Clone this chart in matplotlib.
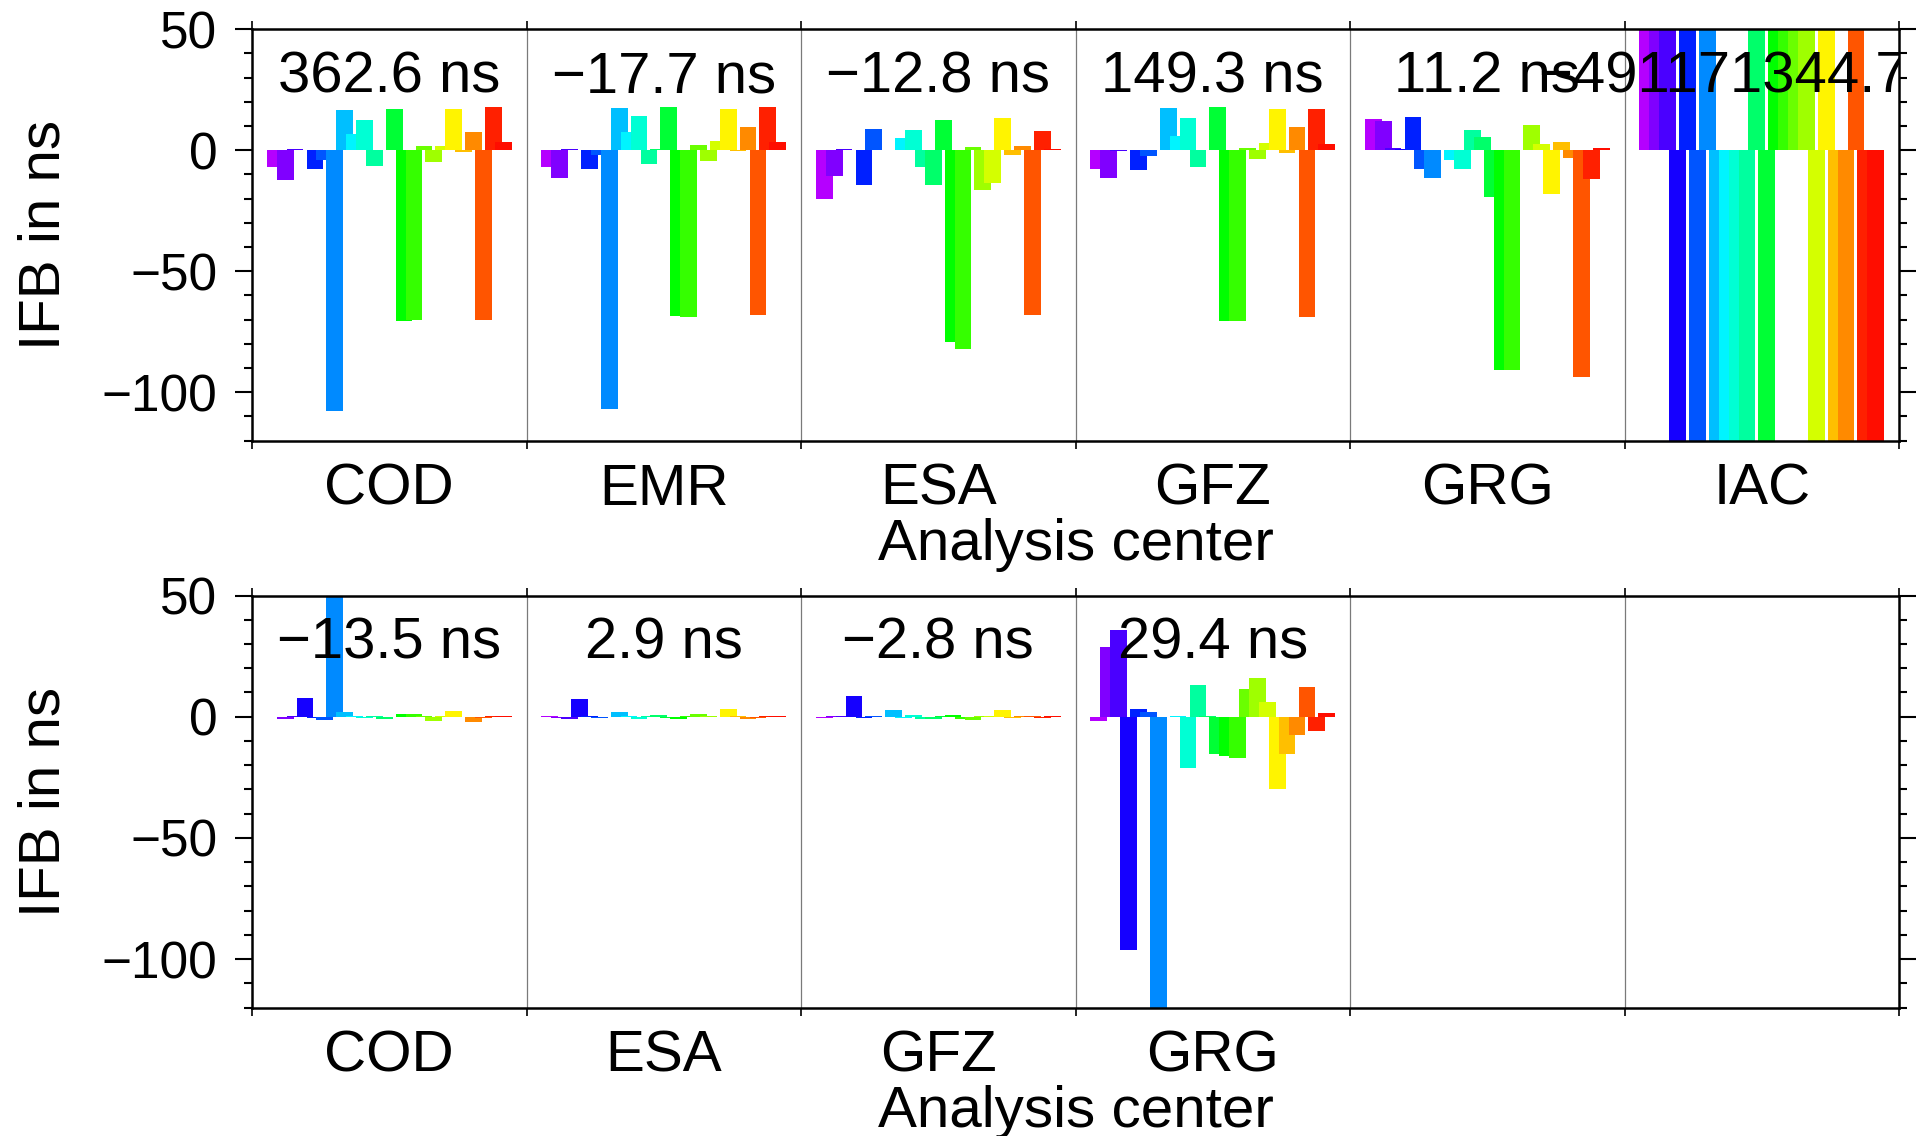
import matplotlib
matplotlib.use("Agg")
import matplotlib.pyplot as plt
from matplotlib.colors import hsv_to_rgb
from matplotlib.ticker import MultipleLocator

plt.rcParams['font.family'] = ['Liberation Sans', 'DejaVu Sans']

# ---- data -----------------------------------------------------------------
top_centers = ["COD", "EMR", "ESA", "GFZ", "GRG", "IAC"]
top_offsets_ns = [362.6, -17.7, -12.8, 149.3, 11.2, -491171344.7]

bottom_centers = ["COD", "ESA", "GFZ", "GRG", "", ""]
bottom_offsets_ns = [-13.5, 2.9, -2.8, 29.4]

# inter-frequency biases of the 24 channels, ns
top_cod = [-6.9, -12.4, 0.4, 0.0, -7.9, -4.1, -108.0, 16.6, 6.6, 12.4, -6.5, 0.3,
           17.0, -70.4, -70.0, 1.7, -4.8, 1.7, 17.0, -0.8, 7.5, -70.0, 17.7, 3.3]
top_emr = [-6.9, -11.5, 0.4, 0.0, -7.7, -1.9, -106.8, 17.4, 7.5, 14.1, -5.8, 0.4,
           17.8, -68.6, -69.1, 2.1, -4.4, 3.7, 17.0, -0.4, 9.5, -68.2, 17.8, 3.3]
top_esa = [-20.3, -10.6, 0.4, 0.3, -14.4, 8.7, 0.0, 0.3, 5.0, 8.3, -6.9, -14.4,
           12.4, -79.4, -82.3, 1.2, -16.4, -13.7, 13.3, -1.9, 1.7, -68.2, 7.9, 0.4]
top_gfz = [-7.7, -11.5, -0.3, 0.0, -8.1, -2.3, 0.0, 17.4, 5.8, 13.3, -6.9, 0.3,
           17.8, -70.7, -70.7, 0.8, -3.6, 2.9, 17.0, -1.1, 9.5, -69.1, 17.0, 2.5]
top_grg = [12.8, 12.0, 0.8, 0.5, 13.7, -7.7, -11.5, 0.0, -4.0, -7.7, 8.3, 5.4,
           -19.3, -91.0, -91.0, 0.0, 10.4, 2.5, -18.1, 3.3, -3.2, -93.9, -11.9, 0.8]
top_iac = [6.1e8, 5.8e8, 6.4e8, -9.2e8, 5.9e8, -9.6e8, 6.0e8, -9.4e8, -9.1e8, -9.3e8,
           -9.5e8, 6.2e8, -9.0e8, 5.7e8, 6.3e8, 5.5e8, 6.0e8, -9.7e8, 5.8e8, -9.2e8,
           -9.4e8, 6.1e8, -9.6e8, -9.3e8]

bot_cod = [-0.2, -1.1, 0.2, 7.6, -0.5, -1.5, 62.0, 1.8, 0.3, -0.4, 0.3, -0.8,
           -0.2, 1.0, 1.1, 0.5, -1.8, 0.2, 2.2, -0.3, -2.3, -0.5, 0.4, 0.3]
bot_esa = [0.3, -0.5, -0.9, 7.2, 0.4, -0.4, 0.0, 1.8, 0.2, -0.9, 0.2, 0.6,
           -0.4, -0.9, 0.2, 1.0, 0.3, -0.3, 3.0, 0.3, -0.9, -0.4, 0.3, 0.3]
bot_gfz = [-0.4, 0.2, 0.2, 8.5, -0.4, 0.3, 0.0, 2.6, -0.4, 0.6, -0.8, -0.8,
           0.3, 0.6, -0.8, -1.2, 0.3, 0.2, 2.6, -0.4, 0.3, 0.3, -0.4, 0.3]
bot_grg = [-1.7, 28.8, 35.8, -96.3, 3.2, 1.9, -125.0, 0.0, 0.3, -21.2, 13.1, 0.3,
           -15.3, -16.1, -16.9, 11.4, 16.0, 6.1, -29.8, -15.3, -7.4, 12.3, -5.8, 1.5]

top_groups = [top_cod, top_emr, top_esa, top_gfz, top_grg, top_iac]
bottom_groups = [bot_cod, bot_esa, bot_gfz, bot_grg]

# ---- style ----------------------------------------------------------------
n_chan = 24
step = 0.0361        # spacing of channels inside one center slot
bar_w = 0.061        # bars are wider than the spacing and overlap
colors = [hsv_to_rgb((max(282.5 - 12.5 * j, 3.0) / 360.0, 1.0, 1.0))
          for j in range(n_chan)]

W, H = 1923, 1136
fig = plt.figure(figsize=(W / 100, H / 100), dpi=100)
left, right = 252 / W, 1899 / W
ax_top = fig.add_axes([left, 1 - 440.5 / H, right - left, 411.2 / H])
ax_bot = fig.add_axes([left, 1 - 1007.7 / H, right - left, 412.2 / H])


def fmt_ns(v):
    return f"{v:.1f} ns".replace("-", "\u2212")


def draw_panel(ax, groups, offsets, names):
    for g, vals in enumerate(groups):
        xs = [g + 0.5 + (j - (n_chan - 1) / 2) * step for j in range(n_chan)]
        ax.bar(xs, vals, width=bar_w, color=colors, linewidth=0, zorder=2)
    for g, off in enumerate(offsets):
        ax.text(g + 0.5, 24, fmt_ns(off), ha='center', va='baseline',
                fontsize=41.8, clip_on=True, zorder=5)
    for g in range(1, 6):
        ax.axvline(g, color='#7a7a7a', lw=0.9, zorder=1)

    ax.set_xlim(0, 6)
    ax.set_ylim(-120, 50)

    ax.set_xticks(range(7))
    ax.set_xticklabels([])
    ax.set_xticks([g + 0.5 for g in range(6)], labels=names, minor=True)
    ax.tick_params(axis='x', which='major', bottom=True, top=True,
                   direction='out', length=6, width=1.2)
    ax.tick_params(axis='x', which='minor', length=0, labelsize=42, pad=16)

    ax.set_yticks([-100, -50, 0, 50])
    ax.yaxis.set_minor_locator(MultipleLocator(10))
    ax.tick_params(axis='y', which='both', left=True, right=True,
                   direction='out', width=1.5)
    ax.tick_params(axis='y', which='major', length=12, labelsize=37, pad=13)
    ax.tick_params(axis='y', which='minor', length=6)

    for sp in ax.spines.values():
        sp.set_linewidth(1.8)

    ax.text(-0.1166, 0.5, "IFB in ns", rotation=90, rotation_mode='anchor',
            ha='center', va='baseline', fontsize=42, transform=ax.transAxes)
    ax.text(0.5, -0.29, "Analysis center", ha='center', va='baseline',
            fontsize=42, transform=ax.transAxes)


draw_panel(ax_top, top_groups, top_offsets_ns, top_centers)
draw_panel(ax_bot, bottom_groups, bottom_offsets_ns, bottom_centers)

fig.savefig("out.png", dpi=100)
